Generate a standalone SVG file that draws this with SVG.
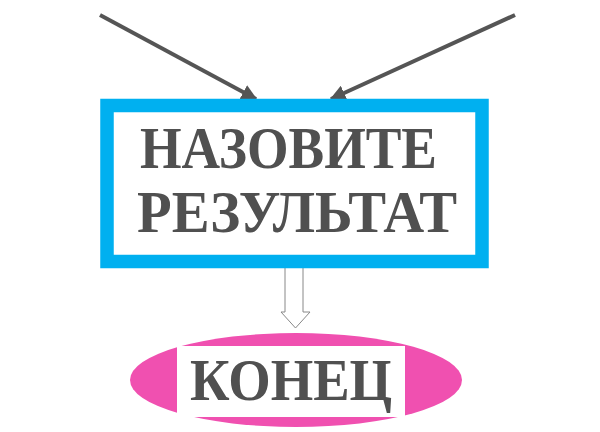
<svg xmlns="http://www.w3.org/2000/svg" width="600" height="432" viewBox="0 0 600 432">
<style>
.t{font-family:"Liberation Serif","DejaVu Serif",serif;font-weight:bold;fill:#505050;font-size:60px}
.ln{stroke:#555;stroke-width:4;fill:none}
</style>
<defs>
<marker id="ah" viewBox="0 0 10 10" refX="9" refY="5" markerWidth="4" markerHeight="4" orient="auto" markerUnits="strokeWidth">
<path d="M0,0 L10,5 L0,10 z" fill="#555"/>
</marker>
</defs>
<rect width="600" height="432" fill="#fff"/>
<g id="connectors">
<line class="ln" x1="100" y1="15" x2="256" y2="99" marker-end="url(#ah)"/>
<line class="ln" x1="515" y1="15" x2="331" y2="99" marker-end="url(#ah)"/>
<path d="M285,268 L285,312 L281,312 L295.5,328 L310,312 L303,312 L303,268" fill="#fff" stroke="#888" stroke-width="1"/>
</g>
<g id="result">
<rect x="107" y="105.5" width="375" height="156" fill="#fff" stroke="#00b0f0" stroke-width="13.5"/>
<text class="t" x="140" y="168" textLength="297" lengthAdjust="spacingAndGlyphs">НАЗОВИТЕ</text>
<text class="t" x="137" y="232" textLength="320" lengthAdjust="spacingAndGlyphs">РЕЗУЛЬТАТ</text>
</g>
<g id="end">
<ellipse cx="296" cy="380" rx="166" ry="47" fill="#f050b0"/>
<rect x="177" y="346" width="228" height="71" fill="#fff"/>
<text class="t" x="190" y="400" textLength="202" lengthAdjust="spacingAndGlyphs">КОНЕЦ</text>
</g>
</svg>
